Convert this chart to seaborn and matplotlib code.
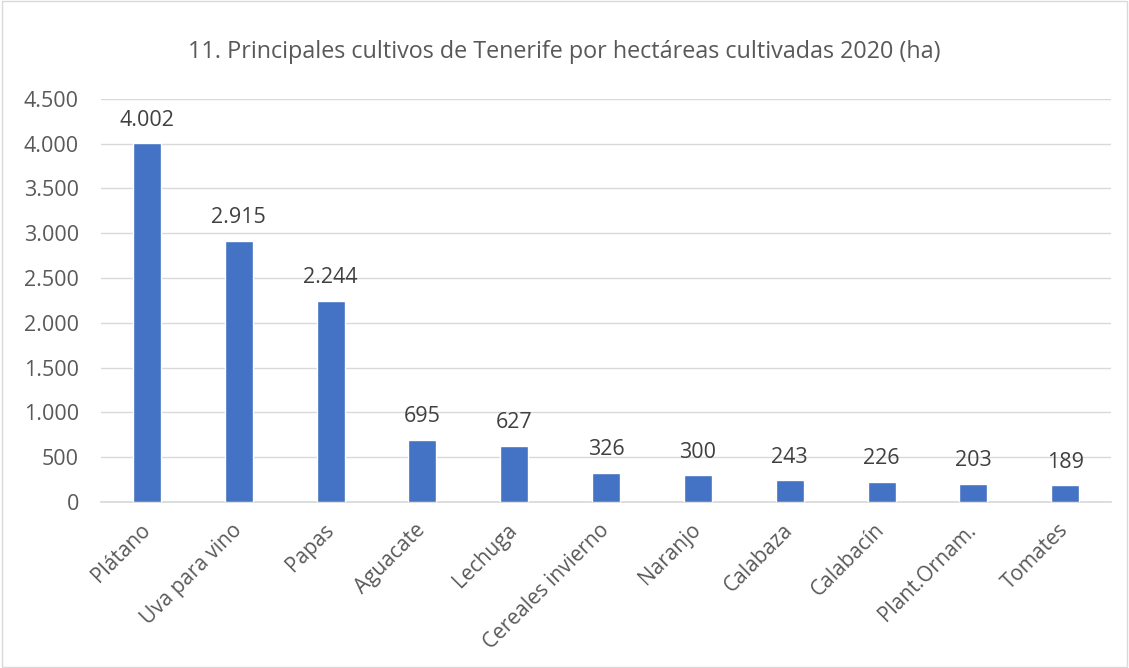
import matplotlib
matplotlib.use("Agg")
import matplotlib.pyplot as plt
import seaborn as sns
import pandas as pd
from matplotlib.ticker import FuncFormatter, MultipleLocator

categories = ["Plátano", "Uva para vino", "Papas", "Aguacate", "Lechuga",
              "Cereales invierno", "Naranjo", "Calabaza", "Calabacín",
              "Plant.Ornam.", "Tomates"]
values = [4002, 2915, 2244, 695, 627, 326, 300, 243, 226, 203, 189]
title = "11. Principales cultivos de Tenerife por hectáreas cultivadas 2020 (ha)"

sns.set_theme(style="white")
plt.rcParams['font.family'] = ['Open Sans', 'DejaVu Sans']

def fmt(v):
    return f"{int(v):,}".replace(",", ".")

df = pd.DataFrame({"cat": categories, "val": values})
fig = plt.figure(figsize=(11.29, 6.68), dpi=100)
ax = fig.add_axes([0.0895, 0.2485, 0.8946, 0.6035])
sns.barplot(data=df, x="cat", y="val", color="#4472C4", width=0.305,
            saturation=1, ax=ax, zorder=3)
ax.set_ylim(0, 4500)
ax.set_xlim(-0.5, len(categories) - 0.5)
ax.yaxis.set_major_locator(MultipleLocator(500))
ax.yaxis.set_major_formatter(FuncFormatter(lambda v, p: fmt(v)))
ax.grid(axis="y", color="#D9D9D9", linewidth=1, zorder=0)
for s in ["top", "right", "left"]:
    ax.spines[s].set_visible(False)
ax.spines["bottom"].set_color("#D9D9D9")
ax.set_xlabel("")
ax.set_ylabel("")
ax.tick_params(axis="y", length=0, colors="#595959", labelsize=15.5, pad=16)
ax.tick_params(axis="x", length=0, colors="#595959", labelsize=15, pad=18)
plt.setp(ax.get_xticklabels(), rotation=45, ha="right", va="center",
         rotation_mode="anchor")
for i, v in enumerate(values):
    ax.text(i, v + 140, fmt(v), ha="center", va="bottom", fontsize=15.5, color="#404040")
fig.text(0.5, 0.922, title, ha="center", va="center", fontsize=16.8, color="#595959")
fig.patches.append(plt.Rectangle((0.002, 0.002), 0.996, 0.996, transform=fig.transFigure,
                                 fill=False, edgecolor="#D9D9D9", linewidth=1))
fig.savefig("out.png", dpi=100)
